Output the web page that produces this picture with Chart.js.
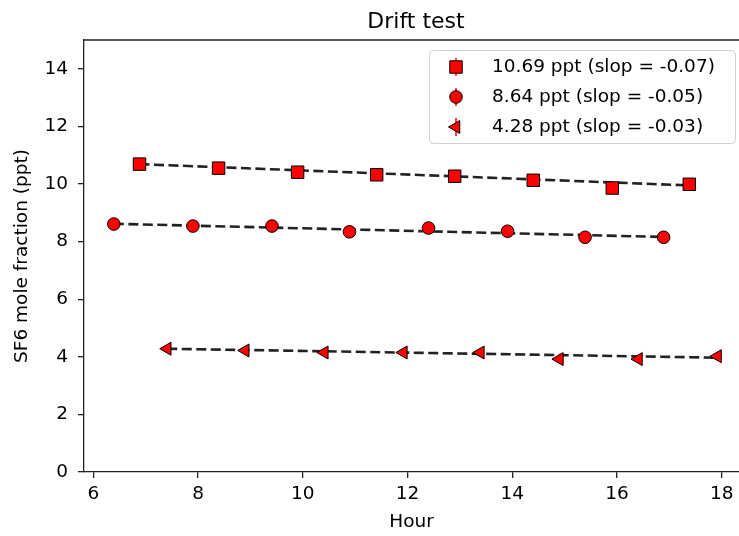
<!DOCTYPE html>
<html>
<head>
<meta charset="utf-8">
<script src="https://cdn.jsdelivr.net/npm/chart.js@4"></script>
<style>
  html, body { margin: 0; padding: 0; background: #fff; overflow: hidden; }
  canvas { display: block; }
</style>
</head>
<body>
<canvas id="driftChart" width="739" height="536"></canvas>
<script>
// values
const hoursHigh = [6.88, 8.39, 9.90, 11.41, 12.90, 14.40, 15.91, 17.38];
const valuesHigh = [10.69, 10.55, 10.41, 10.32, 10.27, 10.13, 9.86, 9.99];
const hoursMid = [6.39, 7.90, 9.41, 10.89, 12.40, 13.91, 15.39, 16.89];
const valuesMid = [8.61, 8.54, 8.54, 8.34, 8.47, 8.36, 8.15, 8.15];
const hoursLow = [7.41, 8.90, 10.41, 11.92, 13.39, 14.90, 16.41, 17.92];
const valuesLow = [4.28, 4.22, 4.15, 4.15, 4.15, 3.92, 3.92, 4.02];

// fitted lines (start, end) as drawn
const fitHigh = [10.69, 9.95];
const fitMid = [8.62, 8.16];
const fitLow = [4.28, 3.97];

const legendLabels = ['10.69 ppt (slop = -0.07)', '8.64 ppt (slop = -0.05)', '4.28 ppt (slop = -0.03)'];
const xTicks = [6, 8, 10, 12, 14, 16, 18];
const yTicks = [0, 2, 4, 6, 8, 10, 12, 14];

const FONT = 'DejaVu Sans';
const INK = '#222';

const toPoints = (xs, ys) => xs.map((x, i) => ({ x: x, y: ys[i] }));
const fitPoints = (xs, fit) => [{ x: xs[0], y: fit[0] }, { x: xs[xs.length - 1], y: fit[1] }];

const markers = [
  { pointStyle: 'rect', radius: 8.8, rotation: 0 },
  { pointStyle: 'circle', radius: 6.3, rotation: 0 },
  { pointStyle: 'triangle', radius: 7.5, rotation: -90 },
];

const fitLine = (data) => ({
  data: data,
  showLine: true,
  borderColor: INK,
  borderWidth: 2.6,
  borderDash: [10, 4.5],
  pointRadius: 0,
  order: 2,
});

const pointSet = (data, m) => ({
  data: data,
  showLine: false,
  backgroundColor: '#ff0000',
  borderColor: '#000',
  borderWidth: 1,
  pointStyle: m.pointStyle,
  pointRadius: m.radius,
  rotation: m.rotation,
  order: 1,
});

// title, top spine and the boxed legend, drawn the matplotlib way
const frame = {
  id: 'frame',
  afterDraw(chart) {
    const { ctx, chartArea } = chart;
    ctx.save();
    ctx.fillStyle = '#000';
    ctx.font = '22px "' + FONT + '"';
    ctx.textAlign = 'center';
    ctx.textBaseline = 'alphabetic';
    ctx.fillText('Drift test', 416, 28);

    ctx.strokeStyle = INK;
    ctx.lineWidth = 1.3;
    ctx.beginPath();
    ctx.moveTo(chartArea.left, chartArea.top);
    ctx.lineTo(chartArea.right, chartArea.top);
    ctx.stroke();

    // legend box
    ctx.beginPath();
    ctx.roundRect(429.5, 50.5, 306, 93, 4);
    ctx.fillStyle = 'rgba(255,255,255,0.8)';
    ctx.fill();
    ctx.strokeStyle = '#d0d0d0';
    ctx.lineWidth = 1;
    ctx.stroke();

    const rows = [67, 97, 127];
    rows.forEach((y, i) => {
      ctx.strokeStyle = '#ff0000';
      ctx.lineWidth = 1.5;
      ctx.beginPath();
      ctx.moveTo(456, y - 9);
      ctx.lineTo(456, y + 9);
      ctx.stroke();
      ctx.fillStyle = '#ff0000';
      ctx.strokeStyle = '#000';
      ctx.lineWidth = 1;
      Chart.helpers.drawPoint(ctx, {
        pointStyle: markers[i].pointStyle,
        rotation: markers[i].rotation,
        radius: markers[i].radius,
        borderWidth: 1,
      }, 456, y);
      ctx.fillStyle = '#000';
      ctx.font = '18.5px "' + FONT + '"';
      ctx.textAlign = 'left';
      ctx.textBaseline = 'middle';
      ctx.fillText(legendLabels[i], 492, y);
    });
    ctx.restore();
  }
};

// the reference is cut off at the right edge, so let the plot run to the canvas edge
const stretchRight = {
  id: 'stretchRight',
  afterLayout(chart) {
    if (chart.width - chart.chartArea.right > 0.5) {
      chart.chartArea.right = chart.width;
      chart.chartArea.width = chart.chartArea.right - chart.chartArea.left;
      const xs = chart.scales.x;
      xs.right = chart.width;
      xs.width = xs.right - xs.left;
      xs.configure();
    }
  }
};

new Chart(document.getElementById('driftChart'), {
  type: 'scatter',
  data: {
    datasets: [
      fitLine(fitPoints(hoursHigh, fitHigh)),
      fitLine(fitPoints(hoursMid, fitMid)),
      fitLine(fitPoints(hoursLow, fitLow)),
      pointSet(toPoints(hoursHigh, valuesHigh), markers[0]),
      pointSet(toPoints(hoursMid, valuesMid), markers[1]),
      pointSet(toPoints(hoursLow, valuesLow), markers[2]),
    ],
  },
  options: {
    responsive: false,
    animation: false,
    layout: { padding: { top: 40, left: 0, right: 0, bottom: 0 } },
    plugins: {
      legend: { display: false },
      tooltip: { enabled: false },
    },
    scales: {
      x: {
        type: 'linear',
        min: 5.82,
        max: 18.33,
        afterBuildTicks: (scale) => { scale.ticks = xTicks.map((v) => ({ value: v })); },
        afterFit: (scale) => { scale.height = 64; },
        grid: { display: true, drawOnChartArea: false, tickLength: 6, color: INK, lineWidth: 1.3 },
        border: { display: true, color: INK, width: 1.3 },
        ticks: { color: '#000', padding: 5, maxRotation: 0, font: { family: FONT, size: 18.5 } },
        title: {
          display: true,
          text: 'Hour',
          color: '#000',
          font: { family: FONT, size: 18.5, lineHeight: 1.2 },
          padding: { top: 0, bottom: 3 },
        },
      },
      y: {
        type: 'linear',
        min: 0,
        max: 15,
        afterBuildTicks: (scale) => { scale.ticks = yTicks.map((v) => ({ value: v })); },
        afterFit: (scale) => { scale.width = 84; },
        grid: { display: true, drawOnChartArea: false, tickLength: 6, color: INK, lineWidth: 1.3 },
        border: { display: true, color: INK, width: 1.3 },
        ticks: { color: '#000', padding: 10, font: { family: FONT, size: 18.5 } },
        title: {
          display: true,
          text: 'SF6 mole fraction (ppt)',
          color: '#000',
          font: { family: FONT, size: 18.5, lineHeight: 1.2 },
          padding: { top: 11, bottom: 0 },
        },
      },
    },
  },
  plugins: [frame, stretchRight],
});
</script>
</body>
</html>
